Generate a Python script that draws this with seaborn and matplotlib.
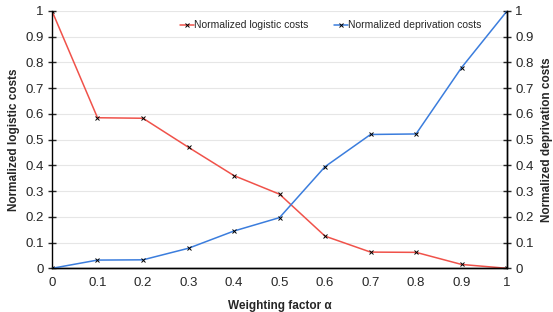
import numpy as np
import pandas as pd
import matplotlib
matplotlib.use('Agg')
import matplotlib.pyplot as plt
import seaborn as sns

# Data
alpha = [0, 0.1, 0.2, 0.3, 0.4, 0.5, 0.6, 0.7, 0.8, 0.9, 1]
logistic = [1.0, 0.585, 0.583, 0.470, 0.360, 0.288, 0.125, 0.063, 0.062, 0.015, 0.0]
deprivation = [0.0, 0.032, 0.033, 0.078, 0.145, 0.197, 0.395, 0.520, 0.522, 0.780, 1.0]

sns.set_style('white')
plt.rcParams['font.family'] = ['Liberation Sans', 'DejaVu Sans']

df = pd.DataFrame({'alpha': alpha, 'logistic': logistic, 'deprivation': deprivation})

fig, ax = plt.subplots(figsize=(5.53, 3.12), dpi=100)
ax2 = ax.twinx()

red = '#F0524A'
blue = '#3B7DDD'

sns.lineplot(data=df, x='alpha', y='logistic', ax=ax, color=red, lw=1.1,
             marker='x', markersize=3.5, markeredgecolor='black', markeredgewidth=0.7,
             label='Normalized logistic costs', legend=False)
sns.lineplot(data=df, x='alpha', y='deprivation', ax=ax2, color=blue, lw=1.1,
             marker='x', markersize=3.5, markeredgecolor='black', markeredgewidth=0.7,
             label='Normalized deprivation costs', legend=False)

ticks = np.round(np.arange(0, 1.01, 0.1), 1)
labels = ['0' if t == 0 else ('1' if t == 1 else f'{t:g}') for t in ticks]
for a in (ax, ax2):
    a.set_xlim(0, 1)
    a.set_ylim(0, 1)
    a.set_yticks(ticks)
    a.set_yticklabels(labels, fontsize=9.5)
    a.spines['top'].set_visible(False)
    for s in ('left', 'right', 'bottom'):
        a.spines[s].set_color('black')
        a.spines[s].set_linewidth(1.0)
    a.tick_params(axis='y', direction='inout', length=6, width=1, pad=3)
ax.set_xticks(ticks)
ax.set_xticklabels(labels, fontsize=9.5)
ax.tick_params(axis='x', direction='inout', length=6, width=1, pad=3)
ax.yaxis.grid(True, color='#e6e6e6', lw=0.8)
ax.set_axisbelow(True)
ax2.spines['left'].set_visible(False)

ax.set_xlabel('Weighting factor α', fontsize=8.5, fontweight='bold', labelpad=8)
ax.set_ylabel('Normalized logistic costs', fontsize=8.5, fontweight='bold')
ax2.set_ylabel('Normalized deprivation costs', fontsize=8.5, fontweight='bold', labelpad=5)

h1, l1 = ax.get_legend_handles_labels()
h2, l2 = ax2.get_legend_handles_labels()
ax.legend(h1 + h2, l1 + l2, loc='upper left', bbox_to_anchor=(0.26, 1.0), ncol=2,
          frameon=False, fontsize=7.5, handlelength=1.35, handletextpad=0.05,
          columnspacing=2.4, markerscale=0.8)

fig.subplots_adjust(left=0.094, right=0.917, bottom=0.14, top=0.965)
fig.savefig('out.png', dpi=100)
